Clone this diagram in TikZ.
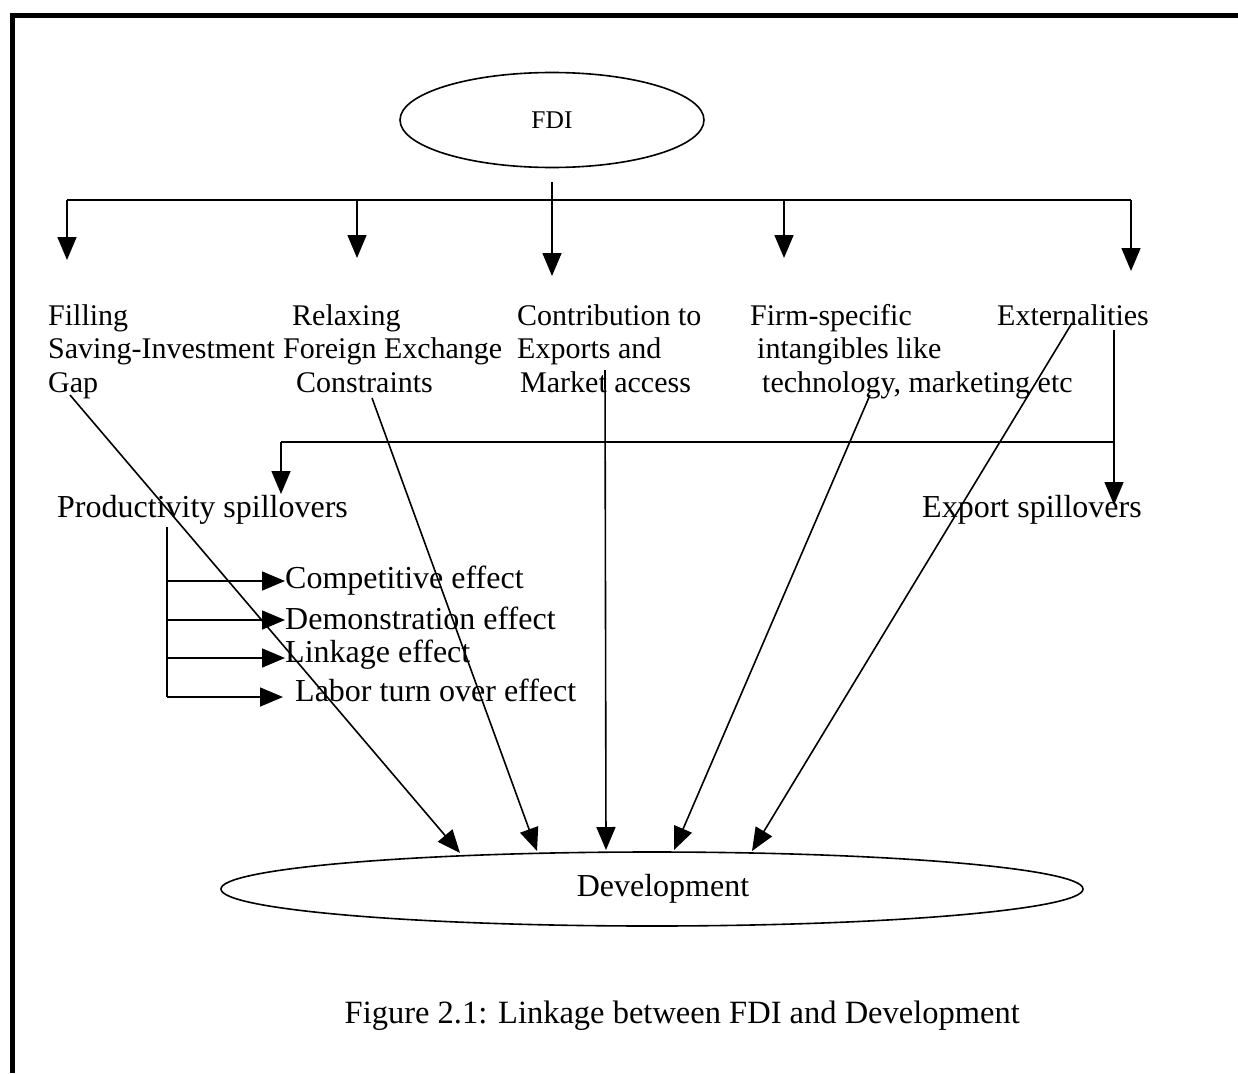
\documentclass[tikz,border=0pt]{standalone}
\usepackage{fontspec}
\setmainfont{Liberation Serif}
\usetikzlibrary{arrows.meta,shapes.geometric}
\begin{document}
\begin{tikzpicture}[x=1pt,y=-1pt,
  conn/.style={line width=1.6pt},
  tip/.style={conn,-{Triangle[length=23pt,width=19pt]}},
  blk/.style={inner sep=0pt,anchor=north west,align=left,font=\fontsize{30}{33.5}\selectfont},
  mid/.style={inner sep=0pt,anchor=west,font=\fontsize{32}{36}\selectfont},
  oval/.style={draw,ellipse,line width=1.6pt,inner sep=0pt}]
\useasboundingbox (0,0) rectangle (1238,1073);
% frame
\draw[line width=5pt] (12,1073) -- (12,16) -- (1238,16);
% FDI
\node[oval,minimum width=304pt,minimum height=95pt,font=\fontsize{25.5}{28}\selectfont] (fdi) at (552,120) {FDI};
\coordinate (fdiout) at (552,182);
\coordinate (hub) at (552,200);
\coordinate (bl) at (67,200);
\coordinate (br) at (1131,200);
\coordinate (b2) at (357,200);
\coordinate (b4) at (784,200);
\coordinate (t1) at (67,260);
\coordinate (t2) at (357,258);
\coordinate (t3) at (552,276);
\coordinate (t4) at (784,258);
\coordinate (t5) at (1131,271);
\draw[conn] (fdiout) -- (hub);
\draw[conn] (bl) -- (br);
\draw[tip] (bl) -- (t1);
\draw[tip] (b2) -- (t2);
\draw[tip] (hub) -- (t3);
\draw[tip] (b4) -- (t4);
\draw[tip] (br) -- (t5);
% top labels
\node[blk] (gap) at (48,304) {Filling\\Saving-Investment\\Gap};
\node[blk] (fx) at (283,304) {\hspace*{9pt}Relaxing\\Foreign Exchange\\\hspace*{13pt}Constraints};
\node[blk] (exp) at (517,304) {Contribution to\\Exports and\\\hspace*{3pt}Market access};
\node[blk] (firm) at (750,304) {Firm-specific\\\hspace*{7pt}intangibles like\\\hspace*{12pt}technology, marketing etc};
\node[blk] (ext) at (997,304) {Externalities};
% externalities branch
\coordinate (e0) at (1114,330);
\coordinate (e1) at (1114,442);
\coordinate (e2) at (281,442);
\coordinate (e3) at (1114,505);
\coordinate (e4) at (281,494);
\draw[tip] (e0) -- (e3);
\draw[conn] (e1) -- (e2);
\draw[tip] (e2) -- (e4);
\node[mid] (prod) at (57,510) {Productivity spillovers};
\node[mid] (expsp) at (922,510) {Export spillovers};
% effects
\coordinate (p0) at (167,527);
\coordinate (p4) at (167,697);
\draw[conn] (p0) -- (p4);
\node[mid] (comp) at (285,581) {Competitive effect};
\node[mid] (demo) at (285,618) {Demonstration effect};
\node[mid] (link) at (285,655) {Linkage effect};
\node[mid] (labor) at (295,690) {Labor turn over effect};
\coordinate (q1) at (167,581);
\coordinate (q2) at (167,620);
\coordinate (q3) at (167,658);
\coordinate (q4) at (283,697);
\draw[tip] (q1) -- (comp.west);
\draw[tip] (q2) -- (285,620);
\draw[tip] (q3) -- (285,658);
\draw[tip] (p4) -- (q4);
% development
\node[oval,minimum width=862pt,minimum height=74pt] (dev) at (652,889) {};
\node[inner sep=0pt,font=\fontsize{32}{36}\selectfont] (devlbl) at (663,889) {Development};
\coordinate (s1) at (70,395);
\coordinate (s2) at (372,398);
\coordinate (s3) at (605,370);
\coordinate (s4) at (870,395);
\coordinate (s5) at (1072,323);
\coordinate (d1) at (460,853);
\coordinate (d2) at (537,851);
\coordinate (d3) at (606,850);
\coordinate (d4) at (674,850);
\coordinate (d5) at (752,851);
\draw[tip] (s1) -- (d1);
\draw[tip] (s2) -- (d2);
\draw[tip] (s3) -- (d3);
\draw[tip] (s4) -- (d4);
\draw[tip] (s5) -- (d5);
% caption
\node[inner sep=0pt,anchor=east,font=\fontsize{32.5}{36}\selectfont] (cap) at (1020,1016) {Figure 2.1: Linkage between FDI and Development};
\end{tikzpicture}
\end{document}
